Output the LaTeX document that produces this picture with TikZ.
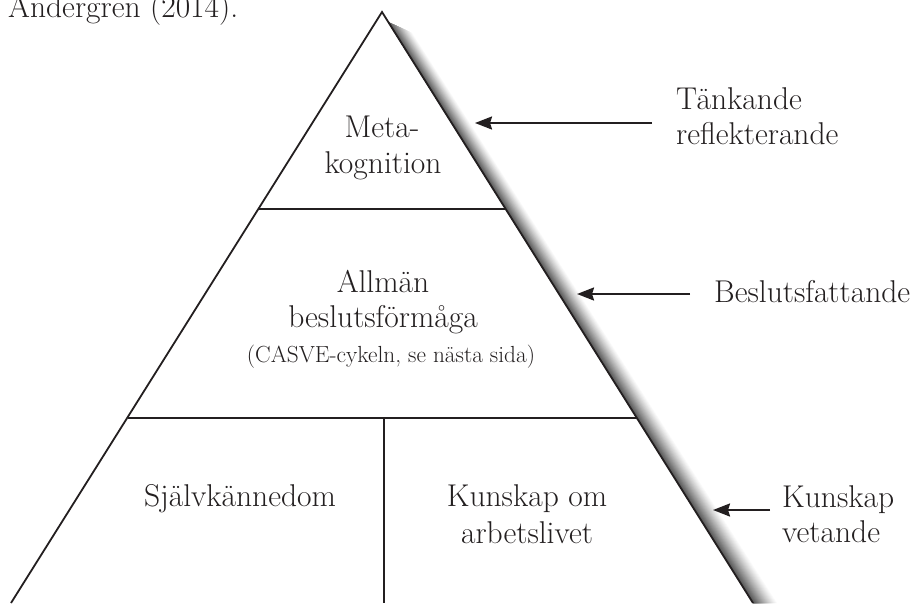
\documentclass[tikz,border=0pt]{standalone}
\usepackage{fontspec}
\usetikzlibrary{arrows.meta}
\definecolor{ink}{RGB}{35,31,32}
\tikzset{
  edge/.style={draw=ink, line width=1.8pt},
  lbl/.style={inner sep=0pt, text=ink, font=\fontsize{31.5}{36}\selectfont},
  small/.style={inner sep=0pt, text=ink, font=\fontsize{23.3}{26}\selectfont},
  arr/.style={draw=ink, line width=2.2pt, -{Stealth[length=17pt,width=13pt,inset=2pt]}}
}
\begin{document}
\begin{tikzpicture}[x=1pt,y=-1pt]
\useasboundingbox (0,0) rectangle (913,603);
% shadow along the right edge
\foreach \d in {24,23,...,1}{
  \pgfmathsetmacro\c{70*(1-\d/25)^1.2}
  \fill[black!\c] (388,22) -- (388+\d,22+\d*0.45) -- (753+\d,603) -- (753,603) -- cycle;
}
% pyramid
\coordinate (apex) at (382,12);
\coordinate (bl) at (11,603);
\coordinate (br) at (753,603);
\coordinate (l1) at (259,209);
\coordinate (r1) at (506,209);
\coordinate (l2) at (128,418);
\coordinate (r2) at (637,418);
\coordinate (mtop) at (384,418);
\coordinate (mbot) at (384,603);
\draw[edge, line join=miter] (bl) -- (apex) -- (br);
\draw[edge] (l1) -- (r1);
\draw[edge] (l2) -- (r2);
\draw[edge] (mtop) -- (mbot);
% texts inside
\node[lbl, anchor=base] (meta) at (382,137) {Meta-};
\node[lbl, anchor=base] (kogn) at (383,173) {kognition};
\node[lbl, anchor=base] (allm) at (383,292) {Allmän};
\node[lbl, anchor=base] (besl) at (383,327) {beslutsförmåga};
\node[small, anchor=base] (casve) at (391,362) {(CASVE-cykeln, se nästa sida)};
\node[lbl, anchor=base] (sjalv) at (240,506) {Självkännedom};
\node[lbl, anchor=base] (kuns1) at (527,506) {Kunskap om};
\node[lbl, anchor=base] (kuns2) at (527,543) {arbetslivet};
% labels right
\node[lbl, anchor=base west] (tank) at (676,109) {Tänkande};
\node[lbl, anchor=base west] (refl) at (676,144) {reflekterande};
\node[lbl, anchor=base west] (beslf) at (714,302) {Beslutsfattande};
\node[lbl, anchor=base west] (kunsk) at (782,507) {Kunskap};
\node[lbl, anchor=base west] (vet) at (782,542) {vetande};
\node[lbl, anchor=base west] (src) at (8,17) {Andergren (2014).};
% arrows
\coordinate (t1) at (652,123); \coordinate (h1) at (475,123);
\coordinate (t2) at (690,294); \coordinate (h2) at (577,294);
\coordinate (t3) at (770,510); \coordinate (h3) at (713,510);
\draw[arr] (t1) -- (h1);
\draw[arr] (t2) -- (h2);
\draw[arr] (t3) -- (h3);
\end{tikzpicture}
\end{document}
